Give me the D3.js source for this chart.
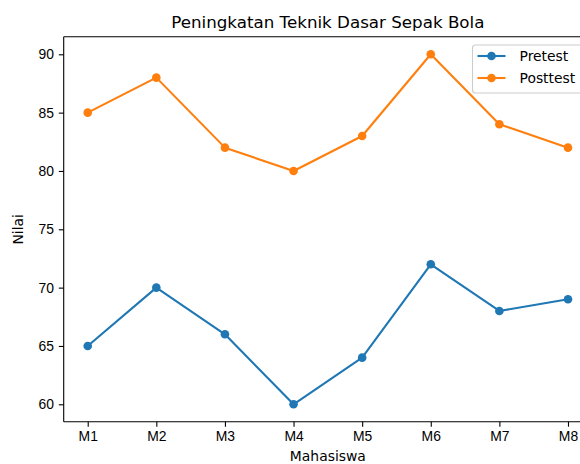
<!DOCTYPE html>
<html>
<head>
<meta charset="utf-8">
<style>
  body { margin: 0; background: #fff; }
  svg { display: block; font-family: "DejaVu Sans", sans-serif; }
  .axis text { font-size: 13.9px; fill: #000; }
  .axis path, .axis line { stroke: #000; stroke-width: 1.1px; }
</style>
</head>
<body>
<svg width="580" height="464"></svg>
<script src="https://d3js.org/d3.v7.min.js"></script>
<script>

var mahasiswa = ["M1","M2","M3","M4","M5","M6","M7","M8"];
var pretest  = [65, 70, 66, 60, 64, 72, 68, 69];
var posttest = [85, 88, 82, 80, 83, 90, 84, 82];
var yTicks = [60, 65, 70, 75, 80, 85, 90];

var series = [
  {name: "Pretest",  values: pretest,  color: "#1f77b4"},
  {name: "Posttest", values: posttest, color: "#ff7f0e"}
];

var svg = d3.select("svg");

// axes box (right edge runs past the picture, as in the original)
var axLeft = 63.7, axRight = 592, axTop = 36.8, axBottom = 421.8;

var x = d3.scaleLinear().domain([-0.35, mahasiswa.length - 1 + 0.35]).range([axLeft, axRight]);
var y = d3.scaleLinear().domain([58.5, 91.5]).range([axBottom, axTop]);

// spines
svg.append("line").attr("x1", axLeft).attr("x2", axRight).attr("y1", axTop).attr("y2", axTop)
  .attr("stroke", "#000").attr("stroke-width", 1.1);
svg.append("line").attr("x1", axRight).attr("x2", axRight).attr("y1", axTop).attr("y2", axBottom)
  .attr("stroke", "#000").attr("stroke-width", 1.1);

var xAxis = d3.axisBottom(x)
  .tickValues(d3.range(mahasiswa.length))
  .tickFormat(function(i) { return mahasiswa[i]; })
  .tickSizeOuter(0).tickSize(4.9).tickPadding(4.9);

svg.append("g").attr("class", "axis")
  .attr("transform", "translate(0," + axBottom + ")")
  .call(xAxis)
  .call(function(g) { g.select(".domain").attr("d", "M" + axLeft + ",0H" + axRight); });

var yAxis = d3.axisLeft(y).tickValues(yTicks).tickSizeOuter(0).tickSize(4.9).tickPadding(4.9);

svg.append("g").attr("class", "axis")
  .attr("transform", "translate(" + axLeft + ",0)")
  .call(yAxis)
  .call(function(g) { g.select(".domain").attr("d", "M0," + axTop + "V" + axBottom); });

var line = d3.line()
  .x(function(d, i) { return x(i); })
  .y(function(d) { return y(d); });

series.forEach(function(s) {
  svg.append("path")
    .datum(s.values)
    .attr("d", line)
    .attr("fill", "none")
    .attr("stroke", s.color)
    .attr("stroke-width", 2.1)
    .attr("stroke-linejoin", "round");

  svg.selectAll(null)
    .data(s.values)
    .enter().append("circle")
    .attr("cx", function(d, i) { return x(i); })
    .attr("cy", function(d) { return y(d); })
    .attr("r", 4.3)
    .attr("fill", s.color);
});

// title and labels
svg.append("text")
  .attr("x", (axLeft + axRight) / 2).attr("y", 28)
  .attr("text-anchor", "middle")
  .style("font-size", "16.7px")
  .text("Peningkatan Teknik Dasar Sepak Bola");

svg.append("text")
  .attr("x", (axLeft + axRight) / 2).attr("y", 461)
  .attr("text-anchor", "middle")
  .style("font-size", "13.9px")
  .text("Mahasiswa");

svg.append("text")
  .attr("transform", "translate(23," + ((axTop + axBottom) / 2) + ") rotate(-90)")
  .attr("text-anchor", "middle")
  .style("font-size", "13.9px")
  .text("Nilai");

// legend
var legend = svg.append("g").attr("transform", "translate(472.5,45)");
legend.append("rect")
  .attr("width", 120).attr("height", 48)
  .attr("rx", 3)
  .attr("fill", "#fff").attr("fill-opacity", 0.8)
  .attr("stroke", "#ccc").attr("stroke-width", 1.1);

series.forEach(function(s, i) {
  var ly = 11 + i * 22;
  legend.append("line")
    .attr("x1", 5).attr("x2", 33).attr("y1", ly).attr("y2", ly)
    .attr("stroke", s.color).attr("stroke-width", 2.1);
  legend.append("circle")
    .attr("cx", 19).attr("cy", ly).attr("r", 4.3).attr("fill", s.color);
  legend.append("text")
    .attr("x", 47).attr("y", ly).attr("dy", "0.35em")
    .style("font-size", "13.9px")
    .text(s.name);
});

</script>
</body>
</html>
